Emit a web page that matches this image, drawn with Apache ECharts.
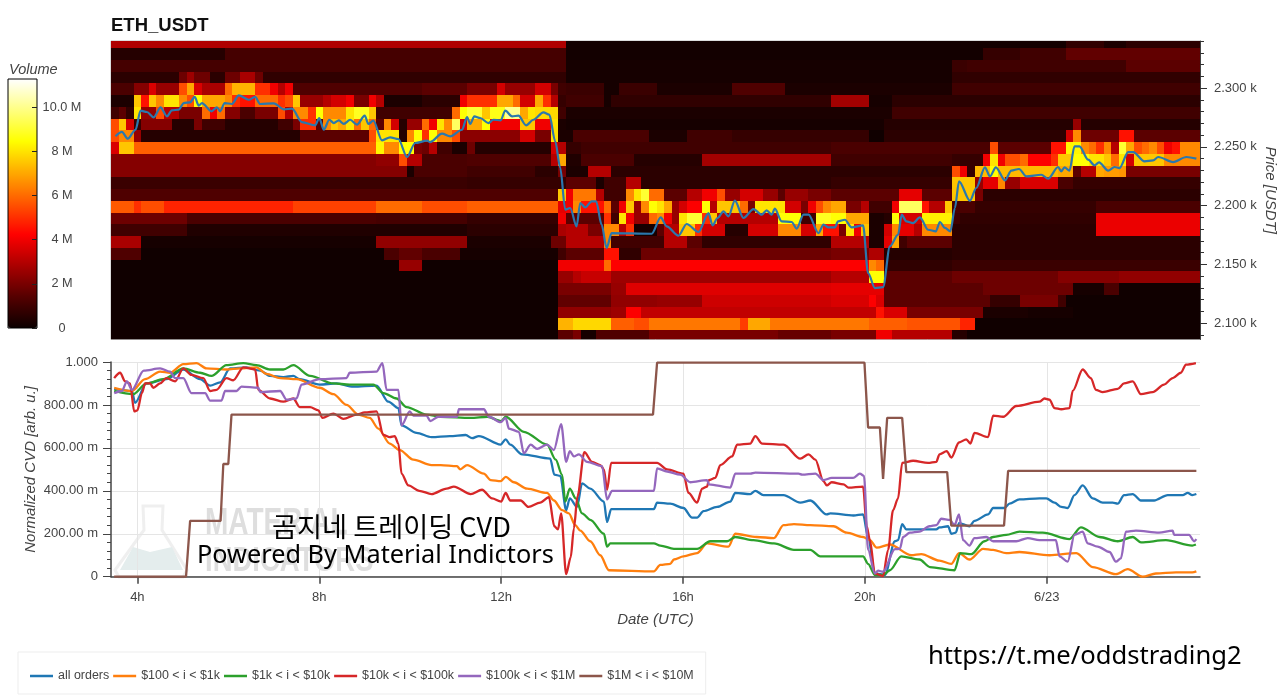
<!DOCTYPE html>
<html><head><meta charset="utf-8">
<script src="https://cdn.jsdelivr.net/npm/echarts@6/dist/echarts.min.js"></script>
<style>html,body{margin:0;padding:0;background:#fff}#c{width:1280px;height:695px}</style>
</head><body><div id="c"></div>
<script>
// Heatmap rows: price-bin centre (USDT) and runs of [first 10-minute column, volume in millions]
const priceBins=[2339,2329,2319,2309,2299,2289,2279,2269,2259,2249,2239,2229,2219,2209,2199,2189,2179,2169,2159,2149,2139,2129,2119,2109,2099,2089];
const r2339=[[0,2.9],[60,0.15],[126,0.7],[131,0.3],[134,0.6]];
const r2329=[[0,0.5],[15,1.1],[60,0.15],[115,0.8],[120,1.0],[126,1.6]];
const r2319=[[0,1.1],[60,0.2],[111,0.9],[113,1.0],[134,1.5]];
const r2309=[[0,0.6],[9,1.8],[10,2.6],[11,1.8],[13,0.6],[15,1.8],[17,2.8],[19,1.8],[20,0.7],[60,0.2],[111,0.7]];
const r2299=[[0,1.2],[3,2.2],[5,3.6],[6,2.5],[9,5.5],[10,7.0],[11,3.6],[12,2.8],[15,6],[16,7.2],[19,5],[21,4],[22,3],[23,4],[24,1.3],[41,1.5],[47,2.0],[51,3.5],[52,2.5],[56,3.5],[58,2],[59,1.0],[60,0.9],[65,0.2],[67,0.9],[72,0.3],[82,1.3],[89,0.3],[111,1.0]];
const r2289=[[0,0.3],[3,7.5],[4,4.5],[5,7.5],[6,6.5],[7,8],[9,6.5],[10,5.5],[11,8.5],[12,7],[15,6.5],[16,5],[17,4.5],[19,6],[22,5],[23,5.5],[24,7.5],[25,2.5],[28,3],[29,3.5],[31,4],[32,2],[34,4],[35,3],[36,0.3],[41,0.6],[46,4],[47,5],[51,7],[53,6],[54,3.5],[56,7],[57,5],[58,3],[59,0.8],[60,1.0],[65,0.2],[66,0.7],[95,2.7],[100,0.2],[103,0.6]];
const r2279=[[0,1.0],[1,1.5],[2,0.7],[3,8],[4,2.5],[6,5.5],[7,3],[9,2],[12,6],[13,4],[14,6],[15,2.2],[17,1.2],[19,2],[22,5.5],[23,3],[24,6.5],[26,5],[27,8.5],[28,6.5],[31,8],[32,8.8],[34,7.5],[35,1.0],[45,6],[46,8.5],[47,9],[49,7.5],[50,8.7],[52,10],[54,7],[55,8],[56,7.8],[59,1.0],[60,0.3],[103,1.0]];
const r2269=[[0,5.5],[1,7.5],[2,3.5],[3,0.8],[4,2.2],[8,0.5],[11,2],[12,1.0],[15,0.5],[22,1.0],[24,2.0],[25,5],[27,1.5],[28,6.5],[29,7.5],[30,7],[31,8],[32,6],[33,7.5],[34,6],[35,1.5],[36,6.5],[37,3.5],[38,0.5],[39,2.5],[41,6],[42,4],[43,8],[44,6.5],[45,9.5],[46,3.5],[47,7],[49,8.5],[50,4],[54,7.5],[56,4],[58,8],[59,0.3],[60,0.2],[102,0.5],[127,2.5],[128,0.5]];
const r2259=[[0,5.5],[1,6.5],[3,2.5],[4,0.5],[25,1.5],[34,5.5],[35,8],[38,0.5],[39,6.5],[40,8.5],[41,5],[42,8.5],[43,6.5],[45,5.5],[46,2.3],[54,3.5],[56,2],[58,8],[59,0.3],[61,1.2],[71,0.3],[76,1],[82,0.8],[100,0.1],[102,0.6],[126,3.5],[127,6.5],[128,1.8],[133,4.5],[135,1.5]];
const r2249=[[0,3.6],[1,7.5],[3,5.8],[35,8.3],[36,6.5],[38,8.5],[40,2],[41,1.8],[42,3],[43,1],[45,0.3],[47,1.8],[48,0.5],[58,3.5],[59,3],[60,0.8],[62,1.0],[95,1.2],[116,5.5],[117,1.5],[124,4.5],[126,8.3],[128,6.5],[129,6],[130,5],[131,6.5],[132,3],[133,9],[134,7],[135,5.5],[136,6],[137,6.5],[138,5.5],[139,4],[140,4.5],[141,6.5]];
const r2239=[[0,2.2],[35,2.4],[38,5.5],[39,3],[41,1.2],[47,1.3],[58,3],[59,7],[60,0.4],[62,1.2],[69,0.5],[78,2.7],[95,1.0],[111,0.8],[115,4],[116,8],[117,4],[118,5.5],[120,6],[121,4.2],[124,5],[125,7.5],[127,8.5],[129,8],[131,7.5],[132,6],[133,8],[134,3.5],[135,7.5],[139,6.5]];
const r2229=[[0,2.2],[39,0.3],[40,1.2],[47,1.0],[56,0.6],[59,2.0],[60,0.3],[63,3],[66,0.6],[111,5.5],[112,4],[113,0.8],[114,7.3],[116,8.5],[117,7.3],[125,7],[127,1.5],[128,3],[130,7],[131,6.8],[133,6.7],[134,2]];
const r2219=[[0,0.9],[47,0.8],[60,1.5],[64,0.3],[65,1.0],[68,3],[70,0.6],[95,0.8],[111,7.5],[114,2.5],[115,3.8],[117,6.5],[118,2.5],[120,3.6],[125,1.2],[127,0.8]];
const r2209=[[0,1.3],[59,7.5],[60,4],[61,6.2],[64,3],[65,1],[68,6.5],[69,8],[70,9],[71,6],[73,1.5],[76,3],[78,4],[80,5.5],[81,2.5],[83,3.5],[86,2.5],[88,1.5],[89,2.5],[92,2],[95,1.5],[104,3.8],[107,1.5],[111,7.5],[114,2],[115,0.6]];
const r2199=[[0,5.7],[3,5],[4,5.5],[7,4.8],[24,5.3],[35,6],[41,5.5],[47,5.8],[59,3.8],[60,4],[61,6.5],[62,4.5],[65,6],[66,1.5],[67,4],[68,7.5],[69,2.5],[70,6.5],[71,8.5],[72,8],[73,7],[74,2.5],[75,3.5],[76,4.2],[78,8.5],[79,3],[80,7.5],[83,6],[84,2],[85,8],[89,3.5],[91,2],[92,4],[93,5.5],[94,6.5],[95,7],[97,2],[99,3],[100,1],[103,4],[104,9.5],[107,4.5],[108,3],[110,7.5],[111,1.2],[114,0.8],[130,1.2]];
const r2189=[[0,1.8],[10,1.2],[35,1.1],[47,0.8],[59,4],[60,1.5],[65,5],[66,1],[67,8],[68,4],[69,2.5],[71,6],[72,6.5],[73,4],[74,2.5],[75,8],[76,9],[78,5],[79,7.5],[80,3],[88,8.5],[91,1],[93,8.8],[95,8.5],[97,7],[100,0.3],[102,0.5],[103,8.5],[104,3.5],[107,8.2],[111,1],[112,0.7],[130,3.9]];
const r2179=[[0,1],[10,0.4],[47,0.6],[59,2.8],[60,3],[63,2],[65,6.5],[67,3],[68,5],[69,0.2],[72,1.5],[73,3],[75,7.5],[77,5],[78,3.5],[81,0.5],[84,3.5],[88,6.5],[91,3.5],[93,7],[94,4.5],[96,2],[97,8],[98,4],[99,7.5],[100,0.3],[102,3.5],[103,6.5],[104,3.8],[106,3],[107,6.5],[111,0.6],[130,3.9]];
const r2169=[[0,2.8],[4,0.2],[35,2.4],[47,0.3],[58,1.8],[60,3],[65,6.5],[66,1],[73,3],[76,1.5],[78,0.7],[95,3],[100,0.3],[102,3.8],[103,7],[104,1.0],[105,1.5],[111,0.6]];
const r2159=[[0,1.3],[4,0.1],[36,1.2],[38,1.6],[41,1.2],[46,0.2],[59,1.0],[60,1.5],[65,4.5],[67,0.7],[70,1.8],[95,2],[100,2.9],[102,0.5],[111,0.6]];
const r2149=[[0,0.1],[38,2.5],[41,0.1],[59,4],[65,6],[66,4.2],[100,6.5],[101,6],[102,0.7],[111,0.9]];
const r2139=[[0,0.1],[59,2.5],[61,3],[62,3.3],[66,2.6],[95,3],[100,8.5],[102,1.5],[111,1.8],[125,2.2],[133,2.4]];
const r2129=[[0,0.1],[59,2],[66,2.5],[68,3.7],[95,3.8],[102,1.5],[115,1.8],[127,0.2],[131,1.2],[133,0.1]];
const r2119=[[0,0.1],[59,1.6],[66,2.4],[72,2.5],[78,3.4],[95,3.6],[100,4.2],[101,3.6],[102,1.5],[116,0.8],[120,2],[125,1],[126,0.1]];
const r2109=[[0,0.1],[59,2.4],[66,2.6],[68,4.2],[70,3.2],[101,4.5],[102,3.6],[105,2],[115,0.3],[121,0.2],[127,0.1]];
const r2099=[[0,0.1],[59,7.2],[61,7.8],[66,5.8],[69,5.5],[71,6.2],[83,5.2],[84,7],[87,6.2],[100,5.8],[105,5.6],[112,4.8],[114,0.1]];
const r2089=[[0,0.1],[59,1.5],[61,2],[62,0.2],[64,1.3],[71,2],[88,1.7],[95,2],[101,4],[103,3],[111,0.5],[113,0.1]];
const heatRows=[r2339,r2329,r2319,r2309,r2299,r2289,r2279,r2269,r2259,r2249,r2239,r2229,r2219,r2209,r2199,r2189,r2179,r2169,r2159,r2149,r2139,r2129,r2119,r2109,r2099,r2089];

// Median price line: [hour, USDT]
const priceLine=[[3.52,2258.9],[3.66,2262.6],[3.79,2256.9],[3.96,2264.5],[4.07,2280.7],[4.21,2279.6],[4.36,2275],[4.51,2283.6],[4.65,2275.9],[4.76,2281],[4.91,2281.6],[5.02,2287.2],[5.16,2287.8],[5.26,2292.4],[5.35,2285],[5.42,2287.2],[5.63,2280.2],[5.75,2283.6],[5.82,2280.2],[5.92,2287.2],[6.08,2286.4],[6.23,2293.8],[6.45,2290],[6.59,2292.4],[6.7,2286.4],[7.0,2287],[7.22,2281.9],[7.4,2282.4],[7.62,2271],[7.91,2268.2],[8.0,2274.5],[8.1,2264.5],[8.22,2273],[8.32,2270.2],[8.43,2272.5],[8.54,2269.4],[8.68,2273],[8.83,2268.8],[9.0,2276.5],[9.08,2269.4],[9.19,2272.2],[9.38,2255.5],[9.56,2258],[9.74,2256.6],[9.93,2241.3],[10.11,2253.2],[10.37,2255.2],[10.44,2254],[10.7,2261.1],[10.88,2258.9],[11.14,2264.5],[11.25,2275.3],[11.32,2269.4],[11.41,2275.9],[11.54,2274.5],[11.72,2270.2],[11.83,2273],[11.99,2272.5],[12.09,2280.7],[12.24,2275.9],[12.38,2276.5],[12.55,2268.2],[12.71,2273],[12.93,2279.3],[13.06,2277.3],[13.19,2254.6],[13.3,2232],[13.41,2196.5],[13.52,2197.9],[13.66,2182.3],[13.74,2202.1],[13.85,2198.4],[13.99,2203.6],[14.09,2203.6],[14.21,2183.7],[14.32,2163.8],[14.43,2176.6],[15.31,2176],[15.51,2189.9],[15.64,2182.3],[15.9,2174.3],[16.08,2184.3],[16.34,2177.5],[16.56,2193.6],[16.65,2183.1],[16.76,2189.4],[16.89,2195],[17.0,2190.8],[17.14,2204.1],[17.33,2189.4],[17.55,2197],[17.73,2192.2],[17.84,2195.9],[17.95,2192.2],[18.02,2197.3],[18.17,2186.5],[18.39,2186],[18.5,2180.3],[18.65,2192.2],[18.76,2192.2],[18.98,2176.6],[19.09,2183.7],[19.2,2181.4],[19.34,2181.4],[19.41,2186.5],[19.56,2187.9],[19.71,2181.4],[19.96,2183.1],[20.07,2142.6],[20.22,2129.8],[20.4,2130.6],[20.55,2165.3],[20.73,2175.2],[20.81,2192.2],[20.91,2186.5],[21.06,2185.1],[21.21,2189.9],[21.39,2179.4],[21.56,2178],[21.65,2186],[21.76,2180.9],[21.88,2178],[21.98,2197.9],[22.07,2220.6],[22.31,2204.1],[22.45,2214.9],[22.64,2232.5],[22.75,2224.8],[22.88,2232.5],[23.08,2221.4],[23.22,2229.7],[23.39,2231.1],[23.55,2224.8],[23.88,2226.2],[24.03,2222.8],[24.25,2232.8],[24.32,2229.1],[24.39,2232.5],[24.5,2229.7],[24.61,2250.4],[24.72,2250.4],[24.91,2239],[25.05,2234.2],[25.15,2236.7],[25.35,2229.7],[25.49,2232.8],[25.6,2231.9],[25.79,2245.5],[25.9,2245.5],[26.15,2237.6],[26.34,2238.4],[26.45,2241.3],[26.78,2237],[27.07,2241.3],[27.29,2239.9]];

// CVD series: [hour, normalized value]
const cvdAll=[[3.49,.875],[3.88,.865],[3.95,.81],[4.2,.90],[4.64,.92],[5.01,.965],[5.38,.92],[5.6,.89],[5.82,.905],[6.04,.97],[6.4,.975],[6.7,.96],[6.92,.935],[7.21,.93],[7.43,.935],[7.57,.92],[8.01,.895],[8.38,.90],[8.75,.885],[9.26,.89],[9.52,.815],[9.74,.785],[9.81,.705],[10.14,.67],[10.47,.65],[10.87,.655],[11.22,.66],[11.36,.645],[11.51,.655],[11.99,.615],[12.1,.64],[12.2,.615],[12.46,.57],[13.08,.55],[13.17,.475],[13.3,.47],[13.43,.31],[13.51,.365],[13.67,.325],[13.78,.435],[13.96,.41],[14.26,.35],[14.33,.255],[14.42,.315],[15.36,.315],[15.43,.345],[15.72,.34],[16.01,.32],[16.2,.275],[16.31,.275],[16.45,.305],[16.75,.325],[17.04,.35],[17.15,.39],[17.48,.385],[17.59,.40],[17.77,.38],[18.21,.38],[18.58,.345],[18.8,.355],[19.16,.29],[19.24,.295],[19.75,.285],[19.96,.29],[20.07,.185],[20.22,.015],[20.44,.008],[20.66,.165],[20.73,.17],[20.82,.245],[20.91,.22],[21.57,.22],[21.64,.23],[21.83,.235],[21.9,.20],[22.0,.205],[22.07,.25],[22.3,.235],[22.41,.26],[22.71,.29],[22.82,.32],[23.07,.32],[23.18,.34],[23.4,.36],[23.84,.365],[23.99,.365],[24.17,.345],[24.32,.325],[24.46,.32],[24.61,.38],[24.79,.425],[25.01,.365],[25.23,.345],[25.45,.345],[25.56,.34],[25.7,.38],[25.89,.385],[26.07,.355],[26.36,.355],[26.66,.38],[26.99,.38],[27.1,.39],[27.2,.38],[27.29,.385]];
const cvd100=[[3.49,.88],[3.88,.865],[4.17,.92],[4.5,.955],[4.72,.95],[5.01,.99],[5.3,.995],[5.52,.97],[5.96,.965],[6.26,.97],[6.62,.975],[6.84,.945],[7.14,.925],[7.5,.92],[8.01,.88],[8.31,.85],[8.6,.80],[8.86,.755],[9.11,.74],[9.3,.69],[9.55,.62],[9.77,.59],[10.07,.545],[10.47,.52],[10.67,.52],[11.03,.515],[11.1,.50],[11.25,.52],[11.62,.48],[11.77,.45],[11.99,.445],[12.1,.465],[12.28,.44],[12.57,.41],[13.01,.39],[13.16,.355],[13.34,.31],[13.49,.295],[13.63,.24],[13.74,.215],[13.96,.165],[14.18,.10],[14.37,.03],[15.36,.025],[15.5,.055],[15.72,.06],[15.8,.08],[16.01,.095],[16.31,.11],[16.53,.155],[17.0,.14],[17.15,.20],[17.62,.185],[18.0,.18],[18.21,.24],[18.44,.245],[18.8,.24],[19.31,.235],[19.6,.205],[19.96,.185],[20.11,.17],[20.26,.135],[20.55,.15],[21.02,.10],[21.24,.105],[21.64,.075],[21.9,.06],[22.07,.11],[22.3,.08],[22.6,.13],[22.82,.125],[23.11,.11],[23.4,.115],[24.06,.10],[24.65,.11],[25.01,.045],[25.52,.012],[25.78,.035],[26.11,.0],[26.4,.015],[26.84,.02],[27.2,.02],[27.29,.025]];
const cvd1k=[[3.49,.865],[3.91,.85],[4.2,.90],[4.57,.92],[5.01,.97],[5.38,.95],[5.63,.935],[5.96,.985],[6.33,.995],[6.62,.985],[6.92,.965],[7.21,.965],[7.43,.985],[7.8,.935],[8.31,.90],[8.67,.895],[9.19,.895],[9.41,.855],[9.7,.83],[9.92,.79],[10.36,.755],[10.67,.745],[11.33,.74],[11.7,.745],[12.0,.725],[12.1,.745],[12.5,.675],[13.01,.615],[13.2,.545],[13.34,.475],[13.41,.35],[13.51,.41],[13.64,.365],[13.78,.295],[13.96,.265],[14.26,.20],[14.33,.14],[14.4,.155],[15.36,.155],[15.5,.145],[15.8,.13],[16.31,.13],[16.6,.165],[16.97,.165],[17.15,.185],[17.55,.17],[18.0,.155],[18.44,.125],[18.8,.125],[19.02,.095],[19.96,.095],[20.07,.06],[20.22,.008],[20.4,.008],[20.55,.03],[20.8,.095],[21.2,.08],[21.43,.045],[21.97,.03],[22.1,.11],[22.34,.105],[22.63,.165],[22.82,.185],[23.11,.195],[23.4,.21],[23.91,.205],[24.5,.175],[24.75,.23],[25.16,.185],[25.56,.165],[25.89,.185],[26.07,.16],[26.62,.17],[27.2,.145],[27.28,.15]];
const cvd10k=[[3.49,.925],[3.62,.95],[3.73,.91],[3.84,.90],[3.93,.77],[4.0,.775],[4.1,.855],[4.17,.90],[4.28,.90],[4.35,.88],[4.5,.90],[4.64,.925],[4.83,.91],[5.01,.97],[5.19,.94],[5.45,.925],[5.6,.865],[5.74,.87],[5.96,.925],[6.11,.915],[6.33,.975],[6.59,.965],[6.66,.87],[6.92,.83],[7.21,.815],[7.43,.83],[7.57,.79],[7.8,.79],[7.98,.775],[8.07,.74],[8.31,.76],[8.53,.735],[8.82,.755],[9.0,.765],[9.26,.77],[9.41,.66],[9.55,.65],[9.66,.655],[9.74,.62],[9.81,.48],[9.96,.425],[10.2,.40],[10.47,.385],[10.8,.41],[10.96,.42],[11.33,.385],[11.58,.405],[11.8,.365],[12.0,.35],[12.1,.39],[12.2,.355],[12.43,.355],[12.6,.325],[12.86,.345],[13.05,.37],[13.17,.235],[13.25,.22],[13.32,.295],[13.43,.012],[13.53,.09],[13.6,.225],[13.68,.375],[13.83,.58],[14.0,.535],[14.18,.52],[14.26,.50],[14.33,.405],[14.42,.53],[15.43,.53],[15.65,.50],[16.01,.48],[16.12,.39],[16.31,.345],[16.42,.41],[16.53,.42],[16.57,.45],[16.71,.46],[16.82,.52],[17.08,.56],[17.19,.615],[17.48,.62],[17.59,.655],[17.74,.62],[18.21,.615],[18.58,.55],[18.76,.57],[18.91,.545],[19.09,.445],[19.16,.425],[19.27,.44],[19.53,.43],[19.64,.415],[19.96,.42],[20.04,.235],[20.11,.17],[20.22,.015],[20.4,.003],[20.51,.125],[20.62,.31],[20.73,.365],[20.82,.53],[21.06,.54],[21.39,.53],[21.57,.535],[21.64,.57],[21.8,.585],[21.9,.555],[22.07,.625],[22.23,.64],[22.32,.62],[22.41,.67],[22.71,.65],[22.82,.75],[23.04,.745],[23.33,.795],[23.84,.815],[23.95,.83],[24.06,.825],[24.17,.785],[24.32,.78],[24.5,.785],[24.57,.865],[24.79,.965],[24.97,.925],[25.08,.87],[25.23,.86],[25.56,.875],[25.7,.90],[25.89,.91],[26.07,.85],[26.33,.86],[26.58,.895],[26.77,.925],[26.95,.95],[27.06,.988],[27.28,.995]];
const cvd100k=[[3.49,.855],[3.66,.865],[3.77,.91],[3.88,.87],[4.14,.96],[4.5,.97],[4.72,.955],[4.83,.925],[5.01,.925],[5.19,.855],[5.49,.855],[5.6,.82],[5.85,.82],[5.93,.865],[6.18,.865],[6.29,.885],[6.66,.88],[6.7,.86],[7.14,.865],[7.28,.825],[7.5,.83],[7.61,.895],[8.01,.92],[8.6,.925],[8.67,.95],[9.26,.955],[9.39,.995],[9.48,.87],[9.74,.87],[9.81,.705],[9.99,.77],[10.07,.75],[10.36,.75],[10.44,.725],[10.62,.745],[11.03,.745],[11.07,.78],[11.62,.78],[11.73,.745],[11.99,.72],[12.1,.74],[12.17,.69],[12.39,.675],[12.5,.575],[12.65,.615],[12.79,.595],[13.01,.615],[13.16,.59],[13.32,.71],[13.43,.535],[13.51,.585],[13.6,.56],[13.71,.57],[13.89,.535],[14.22,.515],[14.33,.36],[14.44,.40],[15.36,.40],[15.43,.505],[15.65,.49],[15.94,.475],[16.16,.44],[16.53,.45],[16.57,.43],[17.04,.415],[17.15,.48],[17.48,.48],[17.59,.485],[18.54,.48],[18.62,.475],[18.91,.48],[19.09,.45],[19.27,.46],[19.74,.46],[19.89,.48],[19.98,.47],[20.07,.125],[20.22,.015],[20.29,.028],[20.4,.023],[20.66,.128],[20.77,.13],[20.84,.185],[20.99,.205],[21.2,.21],[21.42,.235],[21.57,.24],[21.68,.27],[21.87,.265],[21.97,.24],[22.07,.29],[22.16,.17],[22.3,.145],[22.41,.18],[22.67,.185],[22.82,.165],[23.33,.165],[23.58,.18],[23.84,.17],[24.2,.17],[24.28,.095],[24.46,.07],[24.61,.195],[24.79,.21],[24.9,.155],[25.12,.14],[25.38,.115],[25.52,.07],[25.63,.085],[25.74,.21],[25.96,.215],[26.47,.205],[26.77,.215],[26.8,.195],[27.13,.195],[27.24,.165],[27.29,.175]];
const cvd1M=[[3.49,0],[5.07,0],[5.16,.26],[5.83,.26],[5.89,.525],[6.0,.525],[6.07,.755],[15.34,.755],[15.43,.997],[19.99,.997],[20.07,.695],[20.33,.695],[20.4,.455],[20.49,.74],[20.82,.74],[20.91,.487],[21.81,.487],[21.9,.238],[23.06,.238],[23.15,.493],[27.29,.493]];

const seriesNames=['all orders','$100 < i < $1k','$1k < i < $10k','$10k < i < $100k','$100k < i < $1M','$1M < i < $10M'];
const seriesColors=['#1f77b4','#ff7f0e','#2ca02c','#d62728','#9467bd','#8c564b'];
const cvdSeries=[cvdAll,cvd100,cvd1k,cvd10k,cvd100k,cvd1M];
const hourTicks=[4,8,12,16,20,24];
const priceMajor=[2100,2150,2200,2250,2300];
const priceMinor=[2090,2100,2110,2120,2130,2140,2150,2160,2170,2180,2190,2200,2210,2220,2230,2240,2250,2260,2270,2280,2290,2300,2310,2320,2330,2340];
const volumeTicks=[0,2,4,6,8,10];
const hotColors=['#0b0000','#550000','#aa0000','#ff0000','#ff5500','#ffaa00','#ffff00','#ffff80','#ffffff'];

const heatData=[];
heatRows.forEach((runs,r)=>{
  runs.forEach((run,i)=>{
    const end=i+1<runs.length?runs[i+1][0]:144;
    for(let c=run[0];c<end;c++) heatData.push([3.42+c/6,priceBins[r],run[1]]);
  });
});

const FONT='"Liberation Sans",Arial,sans-serif', TXT='#444';
const chart=echarts.init(document.getElementById('c'),null,{renderer:'canvas'});
const xMin=3.42,xMax=27.37;
chart.setOption({
  animation:false,backgroundColor:'#fff',textStyle:{fontFamily:FONT},
  title:{text:'ETH_USDT',left:111,top:16,padding:0,textStyle:{fontFamily:FONT,fontWeight:'bold',fontSize:18.5,color:'#111'}},
  grid:[
    {left:111,top:41,width:1089,height:298.5,outerBoundsMode:'none',containLabel:false,show:true,borderColor:'#bbb',borderWidth:1,backgroundColor:'transparent'},
    {left:111,top:362,width:1089,height:214.7,outerBoundsMode:'none',containLabel:false},
    {left:8,top:79,width:29,height:249,outerBoundsMode:'none',containLabel:false,show:true,borderColor:'#000',borderWidth:1,backgroundColor:'transparent',z:5}
  ],
  xAxis:[
    {type:'value',gridIndex:0,min:xMin,max:xMax,show:false},
    {type:'value',gridIndex:1,min:xMin,max:xMax,name:'Date (UTC)',nameLocation:'middle',nameGap:36,nameMoveOverlap:false,
      nameTextStyle:{fontStyle:'italic',fontSize:15,color:TXT,fontFamily:FONT},
      axisLine:{onZero:false,lineStyle:{color:'#444',width:1.5}},
      axisTick:{show:true,length:7,customValues:hourTicks,lineStyle:{color:'#444',width:1.5}},
      axisLabel:{customValues:hourTicks,margin:14,fontSize:13,color:TXT,fontFamily:FONT,formatter:v=>v===24?'6/23':v+'h'},
      splitLine:{show:true,lineStyle:{color:'#e5e5e5',width:1}}},
    {type:'value',gridIndex:2,min:0,max:1,show:false}
  ],
  yAxis:[
    {type:'value',gridIndex:0,position:'right',min:2086,max:2340,name:'Price [USDT]',nameLocation:'middle',nameRotate:-90,nameGap:63,nameMoveOverlap:false,
      nameTextStyle:{fontStyle:'italic',fontSize:15,color:TXT,fontFamily:FONT},
      axisLine:{show:true,onZero:false,lineStyle:{color:'#444'}},
      axisTick:{show:true,length:7,customValues:priceMajor,lineStyle:{color:'#333'}},
      axisLabel:{customValues:priceMajor,margin:14,fontSize:13,color:TXT,fontFamily:FONT,formatter:v=>(v/1000).toFixed(3)+' k'},
      splitLine:{show:false}},
    {type:'value',gridIndex:0,position:'right',min:2086,max:2340,
      axisLine:{show:false,onZero:false},
      axisTick:{show:true,length:4,customValues:priceMinor,lineStyle:{color:'#333'}},
      axisLabel:{show:false},splitLine:{show:false}},
    {type:'value',gridIndex:1,min:0,max:1,interval:0.2,name:'Normalized CVD [arb. u.]',nameLocation:'middle',nameRotate:90,nameGap:73,nameMoveOverlap:false,
      nameTextStyle:{fontStyle:'italic',fontSize:15,color:TXT,fontFamily:FONT},
      axisLine:{show:true,onZero:false,lineStyle:{color:'#444',width:1.5}},
      axisTick:{show:true,length:8,lineStyle:{color:'#444'}},
      minorTick:{show:true,splitNumber:5,length:4,lineStyle:{color:'#444'}},
      axisLabel:{margin:13,fontSize:13,color:TXT,fontFamily:FONT,formatter:v=>v===0?'0':(v>=0.999?'1.000':(v*1000).toFixed(2)+' m')},
      splitLine:{show:true,lineStyle:{color:'#e5e5e5',width:1}}},
    {type:'value',gridIndex:2,position:'right',min:0,max:11.27,z:20,
      axisLine:{show:false,onZero:false},
      axisTick:{show:true,inside:true,length:5,customValues:volumeTicks,lineStyle:{color:'#222'}},
      axisLabel:{customValues:volumeTicks,align:'center',margin:25,fontSize:12.7,color:TXT,fontFamily:FONT,formatter:v=>v===0?'0':(v===10?'10.0 M':v+' M')},
      splitLine:{show:false}}
  ],
  visualMap:{type:'continuous',seriesIndex:0,dimension:2,min:0,max:11.27,left:8,top:79,itemWidth:29,itemHeight:249,padding:0,
    calculable:false,realtime:false,inRange:{color:hotColors},textStyle:{color:'transparent'},text:null,hoverLink:false,show:true},
  legend:{left:18,top:652,padding:[18,12,12,12],itemGap:4,itemWidth:23,itemHeight:2.5,icon:'rect',borderColor:'#ededed',borderWidth:1,
    data:seriesNames,textStyle:{fontFamily:FONT,fontSize:12.45,color:TXT},selectedMode:false},
  graphic:[
    {type:'text',left:9,top:62,style:{text:'Volume',font:'italic 14.5px '+FONT,fill:'#444'}},
    {type:'polygon',z:-1,shape:{points:[[143,506],[163,506],[162,530],[187,570],[183,577],[119,577],[115,570],[144,530]]},style:{fill:'#fff',stroke:'#efefef',lineWidth:3}},
    {type:'polygon',z:-1,shape:{points:[[133,547],[150,552],[172,547],[183,570],[120,570]]},style:{fill:'#e4eded'}},
    {type:'text',z:-1,x:205,y:506,scaleY:1.3,style:{text:'MATERIAL',font:'bold 28px '+FONT,fill:'#dedede'}},
    {type:'text',z:-1,x:205,y:543,scaleY:1.3,style:{text:'INDICATORS',font:'bold 27.5px '+FONT,fill:'#dedede'}},
    {type:'text',z:100,left:272,top:513.5,style:{text:'곰지네 트레이딩 CVD',font:'27.2px "Noto Sans CJK KR"',fill:'#000'}},
    {type:'text',z:100,left:197,top:543,style:{text:'Powered By Material Indictors',font:'25.3px "Noto Sans","Open Sans",sans-serif',fill:'#000'}},
    {type:'text',z:100,left:928,top:644,style:{text:'https://t.me/oddstrading2',font:'25.6px "Noto Sans","Open Sans",sans-serif',fill:'#000'}}
  ],
  series:[
    {type:'custom',name:'Volume',xAxisIndex:0,yAxisIndex:0,data:heatData,encode:{x:0,y:1},clip:true,silent:true,z:1,progressive:0,
      renderItem:function(params,api){
        const x=api.value(0),y=api.value(1);
        const a=api.coord([x,y+5]),b=api.coord([x+1/6,y-5]);
        const x0=Math.round(a[0]),x1=Math.round(b[0]),y0=Math.round(a[1]),y1=Math.round(b[1]);
        const rect=echarts.graphic.clipRectByRect({x:x0,y:y0,width:x1-x0,height:y1-y0},
          {x:params.coordSys.x,y:params.coordSys.y,width:params.coordSys.width,height:params.coordSys.height});
        return rect&&{type:'rect',shape:rect,style:{fill:api.visual('color'),stroke:null}};
      }},
    {type:'line',name:'Price',xAxisIndex:0,yAxisIndex:0,data:priceLine,symbol:'none',smooth:0.3,smoothMonotone:'x',lineStyle:{color:'#2a78ad',width:2.2},silent:true,z:3},
    ...cvdSeries.map((d,i)=>({type:'line',name:seriesNames[i],xAxisIndex:1,yAxisIndex:2,data:d,symbol:'none',clip:false,
      smooth:i===5?false:0.3,smoothMonotone:'x',
      itemStyle:{color:seriesColors[i]},lineStyle:{color:seriesColors[i],width:2.3},silent:true,z:3+i}))
  ]
});
</script></body></html>
